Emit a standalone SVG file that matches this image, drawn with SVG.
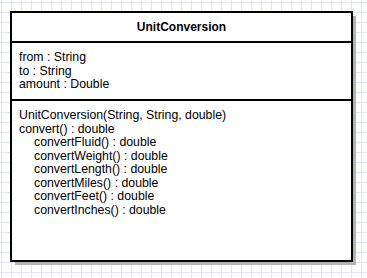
<svg xmlns="http://www.w3.org/2000/svg" width="367" height="278" viewBox="0 0 367 278">
  <style>
    .box { fill: #ffffff; stroke: #000000; stroke-width: 2; }
    .shadow { fill: #b3b3b3; }
    .sep { stroke: #000000; stroke-width: 2; }
    .title { font-family: "Liberation Sans", Arial, sans-serif; font-size: 12px; font-weight: bold; fill: #000000; }
    .member { font-family: "Liberation Sans", Arial, sans-serif; font-size: 12.3px; fill: #000000; }
  </style>
  <defs>
    <pattern id="grid" x="1" y="2" width="10" height="10" patternUnits="userSpaceOnUse">
      <path d="M 0.5 0 V 10 M 0 0.5 H 10" fill="none" stroke="#e4e4f8" stroke-width="1"/>
    </pattern>
  </defs>

  <!-- background grid -->
  <rect x="0" y="0" width="367" height="278" fill="#ffffff"/>
  <rect x="0" y="0" width="367" height="278" fill="url(#grid)"/>

  <!-- class node -->
  <g id="UnitConversion">
    <rect class="shadow" x="15" y="16" width="341" height="249"/>
    <rect class="box" x="11" y="12" width="341" height="249"/>
    <line class="sep" x1="11" y1="42" x2="352" y2="42"/>
    <line class="sep" x1="11" y1="100" x2="352" y2="100"/>

    <text class="title" x="181.5" y="30.5" text-anchor="middle">UnitConversion</text>

    <text class="member" x="19" y="61">from : String</text>
    <text class="member" x="19" y="74.5">to : String</text>
    <text class="member" x="19" y="88">amount : Double</text>

    <text class="member" x="19" y="119">UnitConversion(String, String, double)</text>
    <text class="member" x="19" y="132.5">convert() : double</text>
    <text class="member" x="34" y="146">convertFluid() : double</text>
    <text class="member" x="34" y="159.5">convertWeight() : double</text>
    <text class="member" x="34" y="173">convertLength() : double</text>
    <text class="member" x="34" y="186.5">convertMiles() : double</text>
    <text class="member" x="34" y="200">convertFeet() : double</text>
    <text class="member" x="34" y="213.5">convertInches() : double</text>
  </g>

  <!-- no associations in this diagram -->
  <g id="connectors"/>
</svg>
